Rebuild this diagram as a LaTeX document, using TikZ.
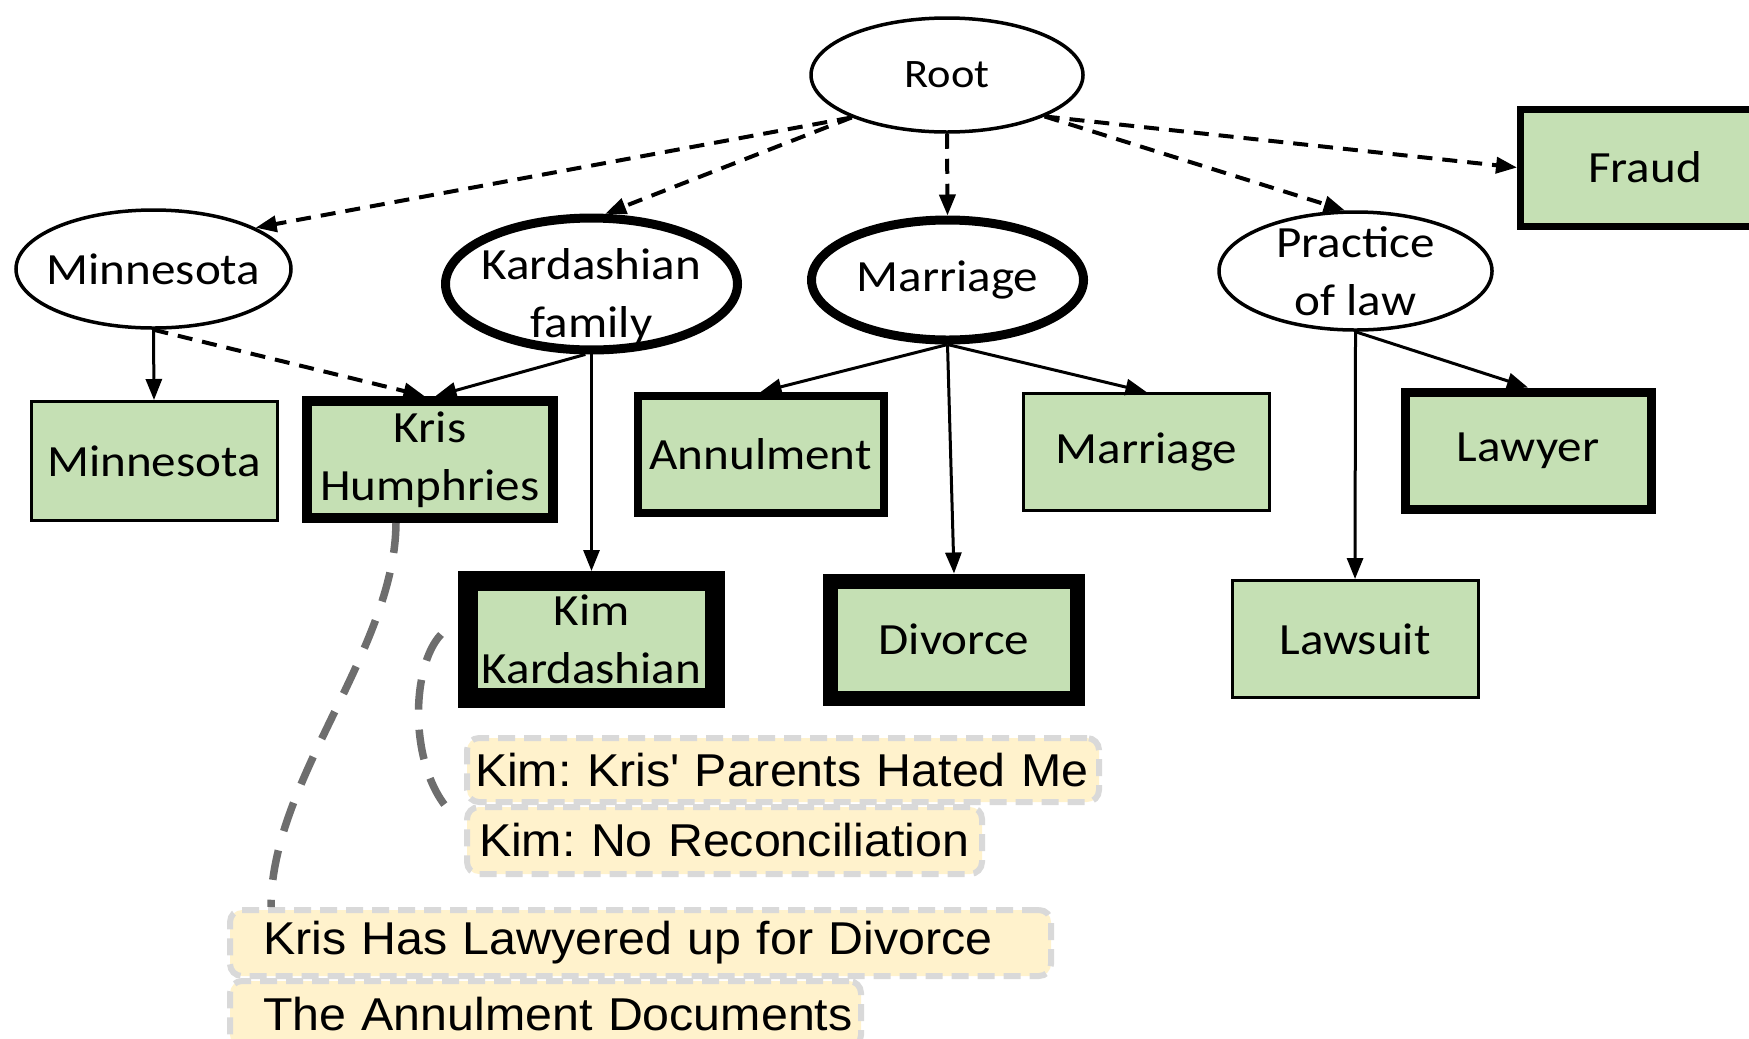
\documentclass[tikz,border=0pt]{standalone}
\usepackage{fontspec}
\setmainfont{Carlito}[FakeStretch=1.1]
\newfontfamily\notefam{Liberation Sans}[FakeStretch=1.05]
\usetikzlibrary{shapes.geometric, arrows.meta, calc}

\definecolor{entgreen}{HTML}{C5E0B4}
\definecolor{noteyellow}{HTML}{FFF2CC}
\definecolor{notegray}{HTML}{D9D9D9}
\definecolor{trailgray}{HTML}{6E6E6E}

\newcommand{\nodesize}{\fontsize{12.7}{16.5}\selectfont}
\newcommand{\rootsize}{\fontsize{11.5}{13}\selectfont}
\newcommand{\notesize}{\fontsize{13.1}{15}\selectfont}
\frenchspacing

\begin{document}
\begin{tikzpicture}[x=0.1mm, y=-0.1mm,
        >={Triangle[length=2.1mm, width=1.6mm]},
        topic/.style={ellipse, draw, line width=0.35mm, minimum width=27.4mm,
            minimum height=11.8mm, inner sep=-4pt, align=center, font=\nodesize},
        entity/.style={rectangle, draw, fill=entgreen, line width=0.3mm,
            minimum width=24.6mm, minimum height=11.7mm, inner sep=0pt,
            align=center, font=\nodesize},
        link/.style={->, line width=0.3mm},
        guess/.style={->, line width=0.4mm, dash pattern=on 1.5mm off 1mm},
        trail/.style={draw=trailgray, line width=0.75mm, dash pattern=on 3mm off 2mm},
        note/.style={draw=notegray, fill=noteyellow, line width=0.6mm,
            dash pattern=on 1.7mm off 0.9mm, rounded corners=1.2mm,
            inner ysep=0pt, align=left, font=\notefam\notesize}]
    \useasboundingbox (0,0) rectangle (1749,1038);

    % Topics
    \node[topic, font=\rootsize, minimum width=27.2mm, minimum height=11.4mm] (root) at (947,75) {Root};
    \node[topic, minimum width=27.5mm] (minn) at (153.5,269) {Minnesota};
    \node[topic, line width=0.9mm, minimum width=29.2mm, minimum height=12.5mm] (kard) at (591.5,284) {\rule{0pt}{16pt}Kardashian\\family};
    \node[topic, line width=0.9mm, minimum width=27.2mm, minimum height=12mm] (marr) at (947.5,280) {Marriage};
    \node[topic, minimum width=27.3mm] (practice) at (1355.5,271) {Practice\\of law};

    % Entities
    \node[entity, line width=0.7mm, minimum width=24.9mm] (fraud) at (1645,167.5) {Fraud};
    \node[entity, minimum height=11.9mm] (minnr) at (154,461) {Minnesota};
    \node[entity, line width=1mm] (kris) at (430,459.5) {Kris\\Humphries};
    \node[entity, line width=0.8mm] (annul) at (760.5,454.5) {Annulment};
    \node[entity] (marrr) at (1146.5,452) {Marriage};
    \node[entity, line width=0.9mm] (lawyer) at (1528,450.5) {Lawyer};
    \node[entity, line width=2mm, minimum width=24.7mm] (kim) at (591.5,639.5) {Kim\\Kardashian};
    \node[entity, line width=1.5mm, minimum width=24.7mm] (divorce) at (954,639.5) {Divorce};
    \node[entity] (lawsuit) at (1355,639) {Lawsuit};

    % Links from the root
    \draw[guess] (root.204) -- (minn.22);
    \draw[guess] (root.204) -- (kard.79);
    \draw[guess] (root.south) -- (marr.north);
    \draw[guess] (root.-23) -- (practice.100);
    \draw[guess] (root.-23) -- (fraud.west);

    % Links to entities
    \draw[link] (minn.south) -- (minnr.north);
    \draw[guess] (minn.south) -- (kris.95);
    \draw[link] (kard.265) -- (kris.85);
    \draw[link] (kard.south) -- (kim.north);
    \draw[link] (marr.south) -- (annul.north);
    \draw[link] (marr.south) -- (divorce.north);
    \draw[link] (marr.south) -- (marrr.north);
    \draw[link] (practice.south) -- (lawsuit.north);
    \draw[link] (practice.south) -- (lawyer.north);

    % News notes
    \node[note, inner xsep=0.8mm, text width=61.6mm, minimum height=6.4mm] (n1) at (783,770) {\mbox{Kim: Kris' Parents Hated Me}};
    \node[note, inner xsep=1.2mm, text width=49.1mm, minimum height=6.7mm] (n2) at (724.5,840.5) {\mbox{Kim: No Reconciliation}};
    \node[note, inner xsep=3.3mm, text width=75.5mm, minimum height=6.6mm] (n3) at (640.5,943) {\mbox{Kris Has Lawyered up for Divorce}};
    \node[note, inner xsep=3.3mm, text width=56.5mm, minimum height=6.6mm] (n4) at (545.5,1014) {\mbox{The Annulment Documents}};

    % Trails to the notes
    \draw[trail] (kris.south) ++(-34,0) .. controls (395,650) and (271,780) .. ($(n3.north west)+(44,0)$);
    \draw[trail] (kim.west) ++(-17,-5) .. controls (412,665) and (408,760) .. ($(n1.south west)+(-17,3)$);

\end{tikzpicture}
\end{document}
